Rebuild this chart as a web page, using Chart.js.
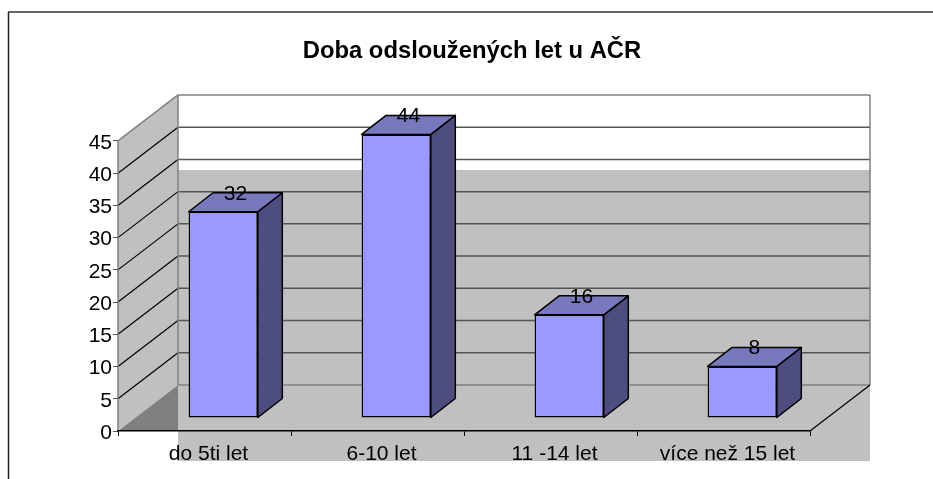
<!DOCTYPE html>
<html><head><meta charset="utf-8">
<style>html,body{margin:0;padding:0;background:#fff}#w{width:933px;height:479px;position:relative}canvas{display:block}</style>
<script src="https://cdn.jsdelivr.net/npm/chart.js@4"></script>
</head><body><div id="w"><canvas id="c" width="933" height="479"></canvas></div>
<script>
const titleText = "Doba odsloužených let u AČR";
const categories = ["do 5ti let", "6-10 let", "11 -14 let", "více než 15 let"];
const values = [32, 44, 16, 8];
const yTicks = [0, 5, 10, 15, 20, 25, 30, 35, 40, 45];

// 3D look: offsets from front plane
const wallDepth = {x: 60, y: -46};
const barShift = {x: 18.7, y: -13};
const barDepth = {x: 24.5, y: -19};
const wallDropTop = 170, wallDropBottom = 461;
const fontFamily = '"Liberation Sans", Arial, sans-serif';
const labelSize = 21;

function line(ctx, x1, y1, x2, y2, color, w) {
  ctx.beginPath(); ctx.moveTo(x1, y1); ctx.lineTo(x2, y2);
  ctx.strokeStyle = color; ctx.lineWidth = w; ctx.stroke();
}
function poly(ctx, pts, fill, stroke, w) {
  ctx.beginPath(); pts.forEach((p, i) => i ? ctx.lineTo(p[0], p[1]) : ctx.moveTo(p[0], p[1]));
  ctx.closePath();
  if (fill) { ctx.fillStyle = fill; ctx.fill(); }
  if (stroke) { ctx.strokeStyle = stroke; ctx.lineWidth = w; ctx.lineJoin = 'round'; ctx.stroke(); }
}

const walls = {
  id: 'walls',
  beforeDraw(chart) {
    const {ctx, chartArea: a, scales: {y}} = chart;
    const d = wallDepth, L = a.left, R = a.right, T = a.top, B = a.bottom;
    ctx.save();
    // outer frame
    line(ctx, 8.5, 12, 8.5, 479, '#222', 1.5);
    line(ctx, 8, 12, 933, 12, '#333', 1.5);
    // back wall: gray panel slipped downward
    ctx.fillStyle = '#c0c0c0';
    ctx.fillRect(L + d.x, wallDropTop, R - L, wallDropBottom - wallDropTop);
    // side wall
    poly(ctx, [[L, T], [L + d.x, T + d.y], [L + d.x, B + d.y], [L, B]], '#c0c0c0');
    // floor wedge
    poly(ctx, [[L, B], [L + d.x, B + d.y], [L + d.x, B]], '#808080');
    // gridlines
    yTicks.forEach(v => {
      const p = y.getPixelForValue(v);
      if (v > 0 && v < 45) {
        line(ctx, L, p, L + d.x, p + d.y, '#000', 1.2);
        line(ctx, L + d.x, p + d.y, R + d.x, p + d.y, '#555', 1.5);
      }
    });
    // wall outlines
    line(ctx, L, T, L + d.x, T + d.y, '#808080', 1.5);
    line(ctx, L + d.x, T + d.y, R + d.x, T + d.y, '#808080', 1.5);
    line(ctx, L + d.x, T + d.y, L + d.x, B + d.y, '#808080', 1.5);
    line(ctx, R + d.x, T + d.y, R + d.x, B + d.y, '#808080', 1.5);
    line(ctx, L + d.x, B + d.y, R + d.x, B + d.y, '#808080', 1.5);
    line(ctx, L, T, L, B, '#808080', 1.5);
    line(ctx, R, B, R + d.x, B + d.y, '#000', 1.2);
    ctx.restore();
  },
  beforeDatasetsDraw(chart) {
    const {ctx} = chart;
    ctx.save();
    // bar side and top faces
    chart.getDatasetMeta(0).data.forEach(bar => {
      const l = bar.x - bar.width / 2 + barShift.x, r = bar.x + bar.width / 2 + barShift.x;
      const t = bar.y + barShift.y, b = bar.base + barShift.y, dx = barDepth.x, dy = barDepth.y;
      poly(ctx, [[r, t], [r + dx, t + dy], [r + dx, b + dy], [r, b]], '#4d4d80', '#000', 1.5);
      poly(ctx, [[l, t], [l + dx, t + dy], [r + dx, t + dy], [r, t]], '#7878bd', '#000', 1.5);
    });
    ctx.restore();
    ctx.save();
    ctx.translate(barShift.x, barShift.y);
  },
  afterDatasetsDraw(chart) {
    const {ctx} = chart;
    ctx.restore();
    ctx.save();
    ctx.font = labelSize + 'px ' + fontFamily;
    ctx.fillStyle = '#000';
    ctx.textAlign = 'center';
    ctx.textBaseline = 'middle';
    chart.getDatasetMeta(0).data.forEach((bar, i) => {
      ctx.fillText(String(values[i]), bar.x + barShift.x + barDepth.x / 2, bar.y + barShift.y + barDepth.y + 1);
    });
    ctx.restore();
  }
};

new Chart(document.getElementById('c'), {
  type: 'bar',
  data: {
    labels: categories,
    datasets: [{
      data: values,
      backgroundColor: '#9999ff',
      borderColor: '#000',
      borderWidth: 1.5,
      borderSkipped: false,
      barPercentage: 0.4,
      categoryPercentage: 1
    }]
  },
  options: {
    responsive: false,
    animation: false,
    layout: {padding: {left: 11, right: 0, top: 0, bottom: 0}},
    plugins: {
      legend: {display: false},
      tooltip: {enabled: false},
      title: {
        display: true,
        text: titleText,
        color: '#000',
        font: {family: fontFamily, size: 23.8, weight: 'bold'},
        padding: {top: 37, bottom: 75.4}
      }
    },
    scales: {
      x: {
        grid: {drawOnChartArea: false, drawTicks: true, tickLength: 5, color: '#000', offset: true},
        border: {color: '#000', width: 1.5},
        ticks: {color: '#000', font: {family: fontFamily, size: labelSize}, padding: 6, maxRotation: 0, labelOffset: 4},
        afterFit(s) { s.height = 48; }
      },
      y: {
        min: 0, max: 45,
        grid: {drawOnChartArea: false, drawTicks: true, tickLength: 5, color: '#555'},
        border: {display: false},
        ticks: {stepSize: 5, color: '#000', padding: 1, labelOffset: 2, font: {family: fontFamily, size: labelSize}},
        afterFit(s) { s.width = 107; }
      },
      y2: {
        position: 'right', min: 0, max: 45,
        grid: {display: false}, border: {display: false}, ticks: {display: false},
        afterFit(s) { s.width = 123; }
      }
    }
  },
  plugins: [walls]
});
</script></body></html>
